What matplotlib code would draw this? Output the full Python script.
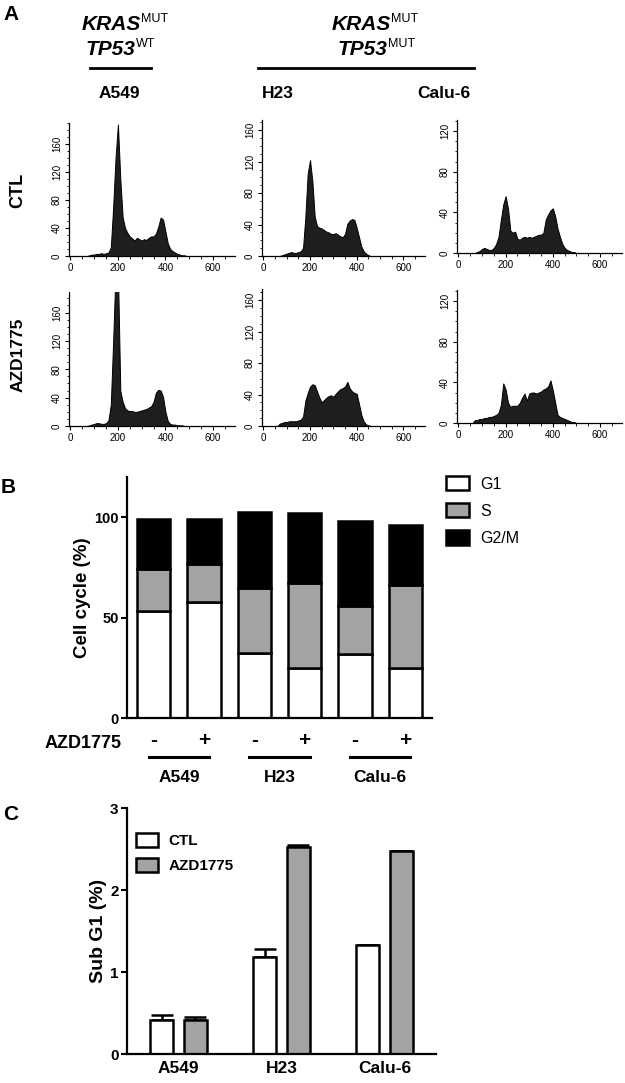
import matplotlib
matplotlib.use('Agg')
import matplotlib.pyplot as plt
from matplotlib.patches import Patch
from matplotlib.lines import Line2D
from matplotlib.ticker import MultipleLocator
from matplotlib.transforms import blended_transform_factory

plt.rcParams['font.family'] = ['Liberation Sans', 'DejaVu Sans']

# ---------------- data ----------------
hist_channels = list(range(60, 510, 10))
a549_ctl = [0, 0, 1, 2, 2, 3, 3, 4, 3, 4,
            5, 12, 70, 140, 188, 110, 55, 40, 33, 28,
            25, 22, 26, 24, 22, 24, 23, 26, 28, 28,
            32, 42, 55, 52, 35, 18, 10, 7, 5, 3,
            2, 1, 1, 0, 0]
h23_ctl = [0, 0, 1, 2, 3, 4, 5, 4, 4, 5,
           6, 10, 50, 105, 122, 95, 50, 38, 36, 35,
           33, 31, 30, 28, 28, 29, 27, 25, 24, 28,
           41, 45, 47, 46, 36, 24, 12, 6, 3, 1,
           0, 0, 0, 0, 0]
calu_ctl = [0, 0, 1, 2, 4, 5, 4, 3, 3, 5,
            9, 16, 33, 48, 56, 44, 22, 20, 21, 14,
            13, 15, 16, 15, 16, 15, 16, 17, 18, 18,
            20, 33, 38, 42, 44, 36, 24, 16, 9, 5,
            3, 2, 1, 1, 0]
a549_azd = [0, 0, 1, 2, 3, 4, 4, 3, 3, 4,
            8, 30, 120, 220, 220, 50, 34, 25, 22, 21,
            21, 20, 20, 21, 22, 23, 24, 26, 28, 34,
            47, 51, 50, 41, 20, 7, 3, 2, 2, 1,
            1, 1, 0, 0, 0]
h23_azd = [0, 3, 4, 5, 5, 6, 6, 6, 6, 7,
           8, 12, 32, 42, 50, 53, 52, 44, 36, 30,
           33, 36, 38, 39, 37, 41, 44, 47, 48, 50,
           56, 48, 44, 42, 41, 28, 14, 6, 2, 1,
           0, 0, 0, 0, 0]
calu_azd = [0, 3, 3, 4, 4, 5, 5, 6, 6, 7,
            8, 10, 18, 39, 33, 20, 16, 17, 17, 17,
            20, 25, 29, 22, 29, 30, 30, 29, 30, 31,
            33, 34, 36, 42, 32, 20, 8, 6, 5, 4,
            3, 2, 1, 1, 0]

cell_lines = ['A549', 'H23', 'Calu-6']
treat_signs = ['-', '+', '-', '+', '-', '+']
g1_pct = [53.4, 57.9, 32.6, 24.8, 31.7, 24.8]
s_pct = [20.6, 18.6, 31.9, 42.2, 24.2, 41.2]
g2m_pct = [25.0, 22.5, 38.0, 35.0, 42.4, 29.9]

subg1_ctl = [0.41, 1.18, 1.335]
subg1_ctl_err = [0.07, 0.10, 0.0]
subg1_azd = [0.41, 2.53, 2.48]
subg1_azd_err = [0.04, 0.02, 0.0]

# ---------------- figure ----------------
W, H = 625, 1083
fig = plt.figure(figsize=(6.25, 10.83), dpi=100)


def fx(x):
    return x / W


def fy(y):
    return 1 - y / H


def px_axes(x0, y0, x1, y1):
    return fig.add_axes([x0 / W, 1 - y1 / H, (x1 - x0) / W, (y1 - y0) / H])


# ---------------- panel A ----------------
hist_specs = [
    (a549_ctl, (69, 123, 235, 256), 190, [0, 40, 80, 120, 160]),
    (h23_ctl, (262, 120, 425, 256), 173, [0, 40, 80, 120, 160]),
    (calu_ctl, (457, 120, 622, 253), 131, [0, 40, 80, 120]),
    (a549_azd, (69, 292, 235, 426), 189, [0, 40, 80, 120, 160]),
    (h23_azd, (262, 289, 425, 426), 174, [0, 40, 80, 120, 160]),
    (calu_azd, (457, 290, 622, 423), 131, [0, 40, 80, 120]),
]
for counts, box, ytop, yt in hist_specs:
    ax = px_axes(*box)
    ax.fill_between(hist_channels, counts, 0, facecolor='#1e1e1e',
                    edgecolor='black', linewidth=0.7)
    ax.set_xlim(-6, 693)
    ax.set_ylim(0, ytop)
    for s in ['top', 'right']:
        ax.spines[s].set_visible(False)
    for s in ['left', 'bottom']:
        ax.spines[s].set_linewidth(0.9)
    ax.set_xticks([0, 200, 400, 600])
    ax.xaxis.set_minor_locator(MultipleLocator(50))
    ax.set_yticks(yt)
    ax.yaxis.set_minor_locator(MultipleLocator(10))
    ax.tick_params(which='major', length=3, width=0.8, labelsize=7, pad=2)
    ax.tick_params(which='minor', length=1.8, width=0.6)
    for lab in ax.get_yticklabels():
        lab.set_rotation(90)
        lab.set_va('center')

fig.text(fx(3), fy(5), 'A', fontsize=15, fontweight='bold', ha='left', va='top')

renderer = fig.canvas.get_renderer()


def gene_label(x_left, y_base, gene, sup, y_sup_base):
    t = fig.text(fx(x_left), fy(y_base), gene, fontsize=15, fontweight='bold',
                 fontstyle='italic', ha='left', va='baseline')
    bb = t.get_window_extent(renderer)
    fig.text(bb.x1 / W, fy(y_sup_base), sup, fontsize=9, ha='left', va='baseline')


gene_label(82, 30, 'KRAS', 'MUT', 22)
gene_label(86, 55, 'TP53', 'WT', 47)
gene_label(332, 30, 'KRAS', 'MUT', 22)
gene_label(338, 55, 'TP53', 'MUT', 47)

fig.add_artist(Line2D([fx(90), fx(151)], [fy(68), fy(68)], color='black', lw=2))
fig.add_artist(Line2D([fx(258), fx(474)], [fy(68), fy(68)], color='black', lw=2))

for name, xc in zip(cell_lines, [119, 278, 444]):
    fig.text(fx(xc), fy(93), name, fontsize=12.5, fontweight='bold',
             ha='center', va='center')

fig.text(fx(18), fy(190), 'CTL', fontsize=13, fontweight='bold', rotation=90,
         ha='center', va='center')
fig.text(fx(18), fy(355), 'AZD1775', fontsize=12.5, fontweight='bold', rotation=90,
         ha='center', va='center')

# ---------------- panel B ----------------
axb = px_axes(127, 477, 432, 718)
pos = list(range(len(g1_pct)))
bw = 0.66
bkw = dict(edgecolor='black', linewidth=1.8, width=bw)
axb.bar(pos, g1_pct, color='white', label='G1', **bkw)
axb.bar(pos, s_pct, bottom=g1_pct, color='#a3a3a3', label='S', **bkw)
bottoms2 = [a + b for a, b in zip(g1_pct, s_pct)]
axb.bar(pos, g2m_pct, bottom=bottoms2, color='black', label='G2/M', **bkw)
axb.set_xlim(-0.53, 5.53)
axb.set_ylim(0, 120)
for s in ['top', 'right']:
    axb.spines[s].set_visible(False)
for s in ['left', 'bottom']:
    axb.spines[s].set_linewidth(1.6)
axb.set_xticks([])
axb.set_yticks([0, 50, 100])
axb.tick_params(axis='y', length=4, width=1.5, labelsize=10.5, pad=2)
for lab in axb.get_yticklabels():
    lab.set_fontweight('bold')
axb.set_ylabel('Cell cycle (%)', fontsize=13.5, fontweight='bold', labelpad=2)

tb = blended_transform_factory(axb.transData, fig.transFigure)
for p, sgn in zip(pos, treat_signs):
    axb.text(p, fy(740), sgn, transform=tb, fontsize=15, fontweight='bold',
             ha='center', va='center')
fig.text(fx(45), fy(744), 'AZD1775', fontsize=13, fontweight='bold',
         ha='left', va='center')
for g, name in enumerate(cell_lines):
    c = 2 * g + 0.5
    axb.add_artist(Line2D([c - 0.6, c + 0.6], [fy(757), fy(757)], transform=tb,
                          color='black', lw=2.2, clip_on=False))
    axb.text(c, fy(778), name, transform=tb, fontsize=12.5, fontweight='bold',
             ha='center', va='center')

fig.legend(handles=[Patch(facecolor='white', edgecolor='black', lw=1.8, label='G1'),
                    Patch(facecolor='#a3a3a3', edgecolor='black', lw=1.8, label='S'),
                    Patch(facecolor='black', edgecolor='black', lw=1.8, label='G2/M')],
           loc='upper left', bbox_to_anchor=(fx(446), fy(476)),
           bbox_transform=fig.transFigure, frameon=False, fontsize=11.5,
           handlelength=1.45, handleheight=1.0, handletextpad=0.7,
           labelspacing=0.72, borderpad=0, borderaxespad=0)

fig.text(fx(1), fy(478), 'B', fontsize=15, fontweight='bold', ha='left', va='top')

# ---------------- panel C ----------------
axc = px_axes(127, 808, 436, 1054)
gpos = list(range(len(cell_lines)))
off = 0.165
cw = 0.224
ctl_x = [g - off for g in gpos]
azd_x = [g + off for g in gpos]
axc.bar(ctl_x, subg1_ctl, width=cw, color='white', edgecolor='black', lw=1.8,
        label='CTL', zorder=2)
axc.bar(azd_x, subg1_azd, width=cw, color='#a3a3a3', edgecolor='black', lw=1.8,
        label='AZD1775', zorder=2)
axc.errorbar(ctl_x, subg1_ctl, yerr=[[0] * 3, subg1_ctl_err], fmt='none',
             ecolor='black', elinewidth=1.8, capsize=8, capthick=1.8, zorder=1)
axc.errorbar(azd_x, subg1_azd, yerr=[[0] * 3, subg1_azd_err], fmt='none',
             ecolor='black', elinewidth=1.8, capsize=8, capthick=1.8, zorder=1)
axc.set_xlim(-0.5, 2.5)
axc.set_ylim(0, 3)
for s in ['top', 'right']:
    axc.spines[s].set_visible(False)
for s in ['left', 'bottom']:
    axc.spines[s].set_linewidth(1.6)
axc.set_xticks(gpos)
axc.set_xticklabels(cell_lines, fontsize=12.5, fontweight='bold')
axc.tick_params(axis='x', length=0, pad=5)
axc.set_yticks([0, 1, 2, 3])
axc.tick_params(axis='y', length=4, width=1.5, labelsize=11, pad=2)
for lab in axc.get_yticklabels():
    lab.set_fontweight('bold')
axc.set_ylabel('Sub G1 (%)', fontsize=14, fontweight='bold', labelpad=2)

axc.legend(loc='upper left', bbox_to_anchor=(fx(136), fy(833)),
           bbox_transform=fig.transFigure, frameon=False,
           prop={'size': 11, 'weight': 'bold'}, handlelength=1.45, handleheight=1.0,
           handletextpad=0.7, labelspacing=0.65, borderpad=0, borderaxespad=0)

fig.text(fx(3), fy(805), 'C', fontsize=15, fontweight='bold', ha='left', va='top')

fig.savefig('out.png', dpi=100)
